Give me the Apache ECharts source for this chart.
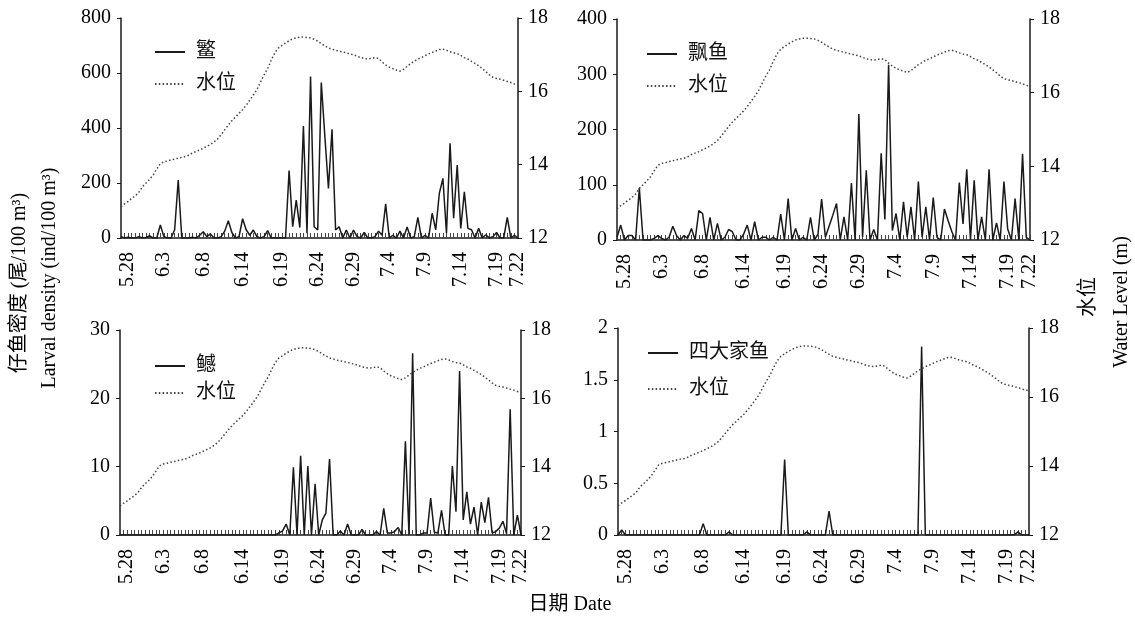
<!DOCTYPE html>
<html>
<head>
<meta charset="utf-8">
<script src="https://cdn.jsdelivr.net/npm/echarts@6/dist/echarts.min.js"></script>
<style>
html,body{margin:0;padding:0;background:#fff;}
#chart{width:1135px;height:617px;}
</style>
</head>
<body>
<div id="chart"></div>
<script>
// ---------- data ----------
var tickIndex = [2, 12, 23, 34, 45, 55, 65, 75, 85, 95, 105, 111];
var tickLabels = ['5.28', '6.3', '6.8', '6.14', '6.19', '6.24', '6.29', '7.4', '7.9', '7.14', '7.19', '7.22'];

var waterLevel = [
 12.85,12.93,13.0,13.08,13.15,13.25,13.4,13.5,13.6,13.72,
 13.88,14.03,14.08,14.1,14.13,14.15,14.18,14.2,14.22,14.26,
 14.32,14.36,14.4,14.45,14.5,14.55,14.62,14.7,14.82,14.95,
 15.08,15.2,15.3,15.4,15.5,15.62,15.76,15.9,16.05,16.25,
 16.45,16.62,16.85,17.05,17.18,17.25,17.32,17.38,17.43,17.46,
 17.48,17.48,17.47,17.46,17.42,17.37,17.3,17.24,17.18,17.15,
 17.12,17.1,17.07,17.05,17.02,17.0,16.96,16.92,16.9,16.88,
 16.9,16.92,16.9,16.8,16.72,16.66,16.62,16.58,16.55,16.6,
 16.68,16.76,16.82,16.88,16.92,16.97,17.02,17.06,17.1,17.14,
 17.15,17.12,17.08,17.05,17.03,16.98,16.92,16.88,16.82,16.76,
 16.7,16.62,16.54,16.45,16.38,16.35,16.33,16.3,16.27,16.24,
 16.2,16.18
];

var minnow = [ // 鳘
 5,0,3,0,0,5,0,2,8,0,
 0,47,5,0,0,30,211,0,0,0,
 3,0,10,23,5,15,0,0,5,25,
 63,20,0,5,70,30,10,29,5,0,
 5,27,0,0,0,0,0,245,41,138,
 38,407,17,587,41,29,565,370,180,395,
 29,41,0,29,0,29,5,0,20,0,
 0,5,25,10,124,0,10,0,25,0,
 40,0,5,75,0,10,0,90,30,162,
 217,17,344,72,265,35,168,35,30,0,
 35,0,12,0,5,20,0,0,75,0,
 10,0
];

var piaoyu = [ // 飘鱼
 5,27,0,8,8,0,94,0,0,0,
 3,8,3,0,5,25,8,0,8,3,
 21,0,53,48,0,41,0,30,0,5,
 19,15,0,0,10,27,0,33,0,5,
 5,0,5,0,47,0,75,0,21,0,
 5,0,41,0,10,74,5,25,45,66,
 0,42,0,103,0,228,5,126,0,19,
 0,157,37,317,17,48,0,69,5,60,
 0,106,5,60,0,77,5,0,56,35,
 15,0,104,29,128,0,108,0,42,0,
 128,0,31,0,106,20,0,75,0,156,
 5,0
];

var ganyu = [ // 鳡
 0,0,0,0,0,0,0,0,0,0,
 0,0,0,0,0,0,0,0,0,0,
 0,0,0,0,0,0,0,0,0,0,
 0,0,0,0,0,0,0,0,0,0,
 0,0,0,0,0.3,0.6,1.6,0,9.9,0,
 11.6,0,10.1,0,7.5,0,2.2,3.2,11.1,0,
 0,0.6,0,1.6,0,0,0,0.8,0,0,
 0,0.5,0,3.9,0.3,0.3,0.5,1.1,0,13.7,
 0,26.6,0,0,0.3,0.3,5.4,0.4,0.3,3.6,
 0,0,10.1,3.4,24,2.2,6.3,1.6,4.1,0,
 4.8,1.8,5.5,0.3,0.5,1.0,2.0,0.2,18.4,0,
 2.9,0
];

var carps = [ // 四大家鱼
 0,0.05,0,0,0,0,0,0,0,0,
 0,0,0,0,0,0,0,0,0,0,
 0,0,0,0.11,0,0,0,0,0,0,
 0.03,0,0,0,0,0,0,0,0,0,
 0,0,0,0,0,0.73,0,0,0,0,
 0,0.03,0,0,0,0,0,0.23,0,0,
 0,0,0,0,0,0,0,0,0,0,
 0,0,0,0,0,0,0,0,0,0,
 0,0,1.82,0,0,0,0,0,0,0,
 0,0,0,0,0,0,0,0,0,0,
 0,0,0,0,0,0,0,0,0.03,0,
 0,0
];

var speciesNames = ['鳘', '飘鱼', '鳡', '四大家鱼'];
var speciesData = [minnow, piaoyu, ganyu, carps];
var leftMax = [800, 400, 30, 2];
var leftInterval = [200, 100, 10, 0.5];
var levelMin = 12, levelMax = 18, levelInterval = 2;

// ---------- layout ----------
var categories = waterLevel.map(function (v, i) { return String(i); });
var grids = [
  {left: 121, top: 18, width: 397, height: 220},
  {left: 617, top: 19, width: 413, height: 221},
  {left: 120, top: 330, width: 401, height: 205},
  {left: 618, top: 328, width: 411, height: 207}
];
var legendPos = [
  {left: 149, top: 37, gap: 12},
  {left: 641, top: 39, gap: 12},
  {left: 149, top: 351, gap: 7},
  {left: 642, top: 338, gap: 16}
];

var SERIF = '"Liberation Serif", "Times New Roman", "Noto Sans CJK SC", serif';
var CJK = '"Liberation Serif", "Noto Sans CJK SC", serif';
var INK = '#1a1a1a';

var xAxes = [], yAxes = [], series = [], legends = [];
for (var g = 0; g < 4; g++) {
  xAxes.push({
    type: 'category', gridIndex: g, data: categories, boundaryGap: false,
    axisLine: {lineStyle: {color: INK, width: 1.5}},
    axisTick: {show: true, inside: true, interval: 0, length: 5, lineStyle: {color: '#444', width: 1}},
    axisLabel: {
      interval: function (idx) { return tickIndex.indexOf(idx) >= 0; },
      formatter: function (v, idx) { var k = tickIndex.indexOf(idx); return k >= 0 ? tickLabels[k] : ''; },
      rotate: 90, margin: 14, color: '#000', fontSize: 20, fontFamily: SERIF
    },
    splitLine: {show: false}
  });
  yAxes.push({
    type: 'value', gridIndex: g, position: 'left', min: 0, max: leftMax[g], interval: leftInterval[g],
    axisLine: {show: true, lineStyle: {color: INK, width: 1.5}},
    axisTick: {show: true, length: 4, lineStyle: {color: INK}},
    axisLabel: {color: '#000', fontSize: 20, fontFamily: SERIF, margin: 10},
    splitLine: {show: false}
  });
  yAxes.push({
    type: 'value', gridIndex: g, position: 'right', min: levelMin, max: levelMax, interval: levelInterval,
    axisLine: {show: true, lineStyle: {color: INK, width: 1.5}},
    axisTick: {show: true, length: 4, lineStyle: {color: INK}},
    axisLabel: {color: '#000', fontSize: 20, fontFamily: SERIF, margin: 10},
    splitLine: {show: false}
  });
  series.push({
    name: speciesNames[g], type: 'line', xAxisIndex: g, yAxisIndex: 2 * g,
    data: speciesData[g], symbol: 'none', silent: true,
    lineStyle: {color: INK, width: 1.5}, itemStyle: {color: INK}
  });
  series.push({
    name: '水位', type: 'line', xAxisIndex: g, yAxisIndex: 2 * g + 1,
    data: waterLevel, symbol: 'none', silent: true,
    lineStyle: {color: '#444', width: 1.5, type: [1.5, 2.3]}, itemStyle: {color: '#444'}
  });
  legends.push({
    left: legendPos[g].left, top: legendPos[g].top, orient: 'vertical',
    itemWidth: 30, itemHeight: 14, itemGap: legendPos[g].gap,
    selectedMode: false, data: [speciesNames[g], '水位'],
    itemStyle: {opacity: 0},
    textStyle: {fontSize: 20, fontFamily: CJK, color: '#111', padding: [0, 0, 0, 6]}
  });
}

var chart = echarts.init(document.getElementById('chart'), null, {renderer: 'canvas'});
chart.setOption({
  animation: false,
  backgroundColor: '#fff',
  grid: grids,
  xAxis: xAxes,
  yAxis: yAxes,
  legend: legends,
  series: series,
  graphic: [
    {type: 'text', x: 20, y: 283, rotation: Math.PI / 2,
     style: {text: '仔鱼密度 (尾/100 m³)', font: '20px ' + CJK, fill: '#000', textAlign: 'center', textVerticalAlign: 'middle'}},
    {type: 'text', x: 50, y: 278, rotation: Math.PI / 2,
     style: {text: 'Larval density (ind/100 m³)', font: '20px ' + SERIF, fill: '#000', textAlign: 'center', textVerticalAlign: 'middle'}},
    {type: 'text', x: 1089, y: 297, rotation: Math.PI / 2,
     style: {text: '水位', font: '20px ' + CJK, fill: '#000', textAlign: 'center', textVerticalAlign: 'middle'}},
    {type: 'text', x: 1122, y: 302, rotation: Math.PI / 2,
     style: {text: 'Water Level (m)', font: '20px ' + SERIF, fill: '#000', textAlign: 'center', textVerticalAlign: 'middle'}},
    {type: 'text', x: 570, y: 605,
     style: {text: '日期 Date', font: '20px ' + CJK, fill: '#000', textAlign: 'center', textVerticalAlign: 'middle'}}
  ]
});
</script>
</body>
</html>
